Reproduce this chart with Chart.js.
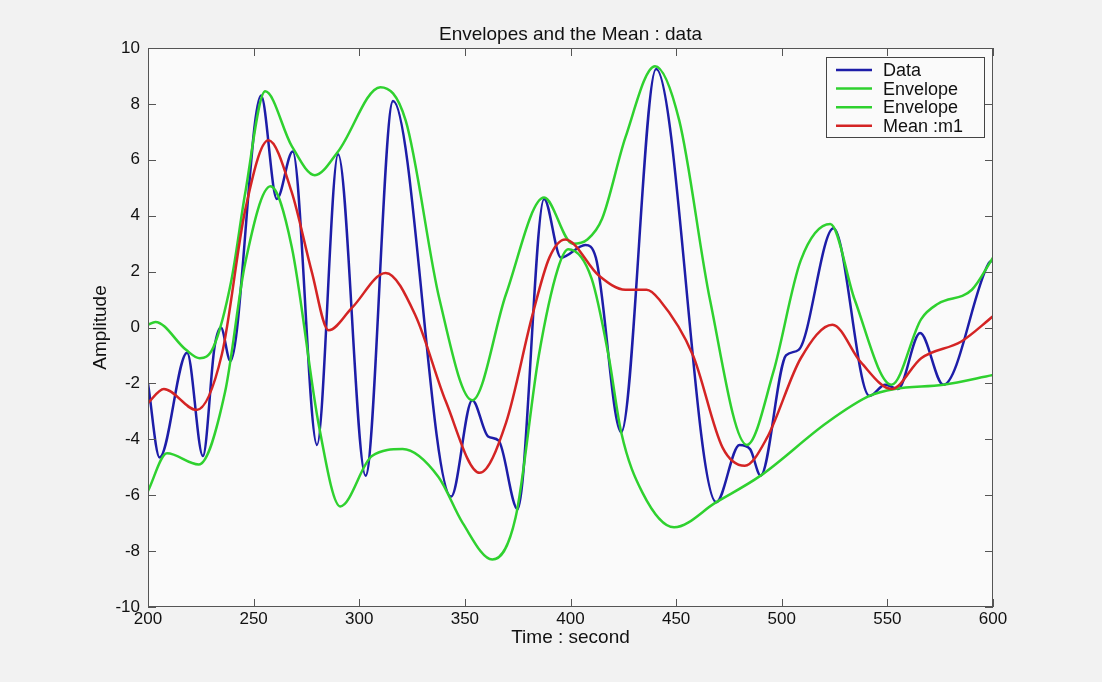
<!DOCTYPE html>
<html>
<head>
<meta charset="utf-8">
<title>Envelopes and the Mean : data</title>
<script src="https://cdn.jsdelivr.net/npm/chart.js@4/dist/chart.umd.min.js"></script>
<style>
  html, body { margin: 0; padding: 0; background: #f2f2f2; }
  canvas { display: block; }
</style>
</head>
<body>
<canvas id="envolventes" width="1102" height="682"></canvas>
<script>
// valores
const tiempo_datos = [200, 205.5, 218.5, 226, 231.5, 234.5, 239, 253.5, 261, 268.5, 280, 290, 303, 316, 343.5, 353.5, 361, 366, 375, 387.5, 395.5, 407, 412, 424, 440.5, 469, 480, 485, 490, 502, 508, 524.5, 541.5, 549, 555, 565.5, 576.5, 598, 600];
const amp_datos    = [-2.0, -4.65, -0.9, -4.6, -0.7, 0.0, -1.2, 8.3, 4.6, 6.3, -4.2, 6.2, -5.3, 8.1, -6.05, -2.6, -3.9, -4.05, -6.5, 4.6, 2.5, 2.95, 2.5, -3.75, 9.25, -6.25, -4.2, -4.35, -5.3, -1.0, -0.8, 3.55, -2.45, -2.05, -2.2, -0.2, -2.05, 2.3, 2.4];

const tiempo_sup = [200, 203.5, 218, 224.5, 231, 239.5, 246, 255.5, 268, 279, 290, 310, 322, 338, 353.5, 369.5, 387.5, 401, 408, 415, 426, 440, 451.5, 466, 483.5, 496, 509, 523, 534.5, 552, 566, 574, 590, 600];
const amp_sup    = [0.1, 0.2, -0.8, -1.1, -0.7, 1.7, 4.8, 8.45, 6.5, 5.45, 6.3, 8.6, 7.4, 1.0, -2.6, 1.2, 4.65, 3.0, 3.15, 3.9, 6.8, 9.35, 7.4, 1.0, -4.2, -1.6, 2.4, 3.7, 1.0, -2.05, 0.3, 0.85, 1.35, 2.5];

const tiempo_inf = [200, 209, 224, 236.5, 246, 258, 268, 281, 291, 306, 320.5, 337.5, 349, 363, 374, 385, 394, 399, 410, 418, 424, 434, 449, 469, 490, 521.5, 541.5, 553.5, 576.5, 600];
const amp_inf    = [-5.85, -4.5, -4.9, -2.3, 2.3, 5.05, 2.9, -3.55, -6.4, -4.6, -4.35, -5.35, -7.0, -8.3, -6.8, -1.0, 2.1, 2.8, 1.75, -1.0, -3.75, -5.9, -7.15, -6.25, -5.3, -3.4, -2.45, -2.2, -2.05, -1.7];

const tiempo_media = [200, 207.5, 223, 235, 246, 257, 268, 277.5, 285.5, 296.5, 312.5, 326.5, 341, 357, 369.5, 382, 390, 397.5, 413.5, 426, 436, 442, 458, 472, 482.5, 493, 509, 524, 537.5, 552, 566, 585, 600];
const amp_media    = [-2.7, -2.2, -2.95, -0.95, 4.2, 6.7, 4.85, 2.0, -0.1, 0.7, 1.95, 0.45, -2.65, -5.2, -3.4, 0.45, 2.5, 3.15, 1.85, 1.35, 1.35, 1.0, -1.0, -4.3, -4.95, -3.95, -1.1, 0.1, -1.25, -2.2, -1.1, -0.5, 0.4];

const etiquetas = ['Data', 'Envelope', 'Envelope', 'Mean :m1'];
const colores = ['#1d1da8', '#2fd12f', '#2fd12f', '#d42424'];
const titulo = 'Envelopes and the Mean : data';

const pares = (xs, ys) => xs.map((x, i) => ({ x: x, y: ys[i] }));

const fuente = '"Liberation Sans", Arial, sans-serif';

// fondo, caja con marcas hacia dentro, titulo y leyenda estilo matlab
const estilo_matlab = {
  id: 'estilo_matlab',
  beforeDraw(chart) {
    const { ctx, chartArea: a } = chart;
    ctx.save();
    ctx.fillStyle = '#f2f2f2';
    ctx.fillRect(0, 0, chart.width, chart.height);
    ctx.fillStyle = '#fafafa';
    ctx.fillRect(a.left, a.top, a.right - a.left, a.bottom - a.top);
    ctx.restore();
  },
  afterDraw(chart) {
    const { ctx, chartArea: a, scales } = chart;
    ctx.save();
    ctx.strokeStyle = '#555555';
    ctx.lineWidth = 1;
    ctx.strokeRect(a.left + 0.5, a.top + 0.5, a.right - a.left - 1, a.bottom - a.top - 1);
    const largo = 8;
    ctx.beginPath();
    scales.x.ticks.forEach(t => {
      const px = Math.round(scales.x.getPixelForValue(t.value)) + 0.5;
      ctx.moveTo(px, a.bottom); ctx.lineTo(px, a.bottom - largo);
      ctx.moveTo(px, a.top); ctx.lineTo(px, a.top + largo);
    });
    scales.y.ticks.forEach(t => {
      const py = Math.round(scales.y.getPixelForValue(t.value)) + 0.5;
      ctx.moveTo(a.left, py); ctx.lineTo(a.left + largo, py);
      ctx.moveTo(a.right, py); ctx.lineTo(a.right - largo, py);
    });
    ctx.stroke();

    // titulo
    ctx.fillStyle = '#111111';
    ctx.font = '19px ' + fuente;
    ctx.textAlign = 'center';
    ctx.textBaseline = 'alphabetic';
    ctx.fillText(titulo, (a.left + a.right) / 2, 40);

    // leyenda
    const ancho = 158, alto = 80;
    const bx = a.right - 9 - ancho, by = a.top + 9;
    ctx.fillStyle = '#fafafa';
    ctx.fillRect(bx, by, ancho, alto);
    ctx.strokeStyle = '#444444';
    ctx.strokeRect(bx + 0.5, by + 0.5, ancho, alto);
    ctx.font = '18px ' + fuente;
    ctx.textAlign = 'left';
    ctx.textBaseline = 'middle';
    etiquetas.forEach((et, i) => {
      const y = by + 13 + i * 18.6;
      ctx.strokeStyle = colores[i];
      ctx.lineWidth = 2.5;
      ctx.beginPath();
      ctx.moveTo(bx + 10, y); ctx.lineTo(bx + 46, y);
      ctx.stroke();
      ctx.fillStyle = '#111111';
      ctx.fillText(et, bx + 57, y + 1);
    });
    ctx.restore();
  }
};

const ctx = document.getElementById('envolventes').getContext('2d');

let grafica_envolventes = new Chart(ctx, {
  type: 'line',
  data: {
    datasets: [
      { label: etiquetas[0], data: pares(tiempo_datos, amp_datos), borderColor: colores[0], order: 3 },
      { label: etiquetas[1], data: pares(tiempo_sup, amp_sup), borderColor: colores[1], order: 2 },
      { label: etiquetas[2], data: pares(tiempo_inf, amp_inf), borderColor: colores[2], order: 1 },
      { label: etiquetas[3], data: pares(tiempo_media, amp_media), borderColor: colores[3], order: 0 }
    ]
  },
  options: {
    responsive: false,
    animation: false,
    layout: { padding: { top: 48, right: 109, bottom: 0, left: 0 } },
    elements: {
      point: { radius: 0 },
      line: { borderWidth: 2.5, cubicInterpolationMode: 'monotone', fill: false }
    },
    plugins: {
      legend: { display: false },
      title: { display: false },
      tooltip: { enabled: false }
    },
    scales: {
      x: {
        type: 'linear',
        min: 200,
        max: 600,
        afterFit: s => { s.height = 75; },
        grid: { display: false, drawTicks: false },
        border: { display: false },
        ticks: { stepSize: 50, padding: 2, color: '#111111', font: { family: fuente, size: 17 } },
        title: { display: true, text: 'Time : second', color: '#111111', font: { family: fuente, size: 19 }, padding: { top: 0, bottom: 33 } }
      },
      y: {
        min: -10,
        max: 10,
        afterFit: s => { s.width = 148; },
        grid: { display: false, drawTicks: false },
        border: { display: false },
        ticks: { stepSize: 2, padding: 8, color: '#111111', font: { family: fuente, size: 17 } },
        title: { display: true, text: 'Amplitude', color: '#111111', font: { family: fuente, size: 19 }, padding: { top: 89, bottom: 0 } }
      }
    }
  },
  plugins: [estilo_matlab]
});
</script>
</body>
</html>
